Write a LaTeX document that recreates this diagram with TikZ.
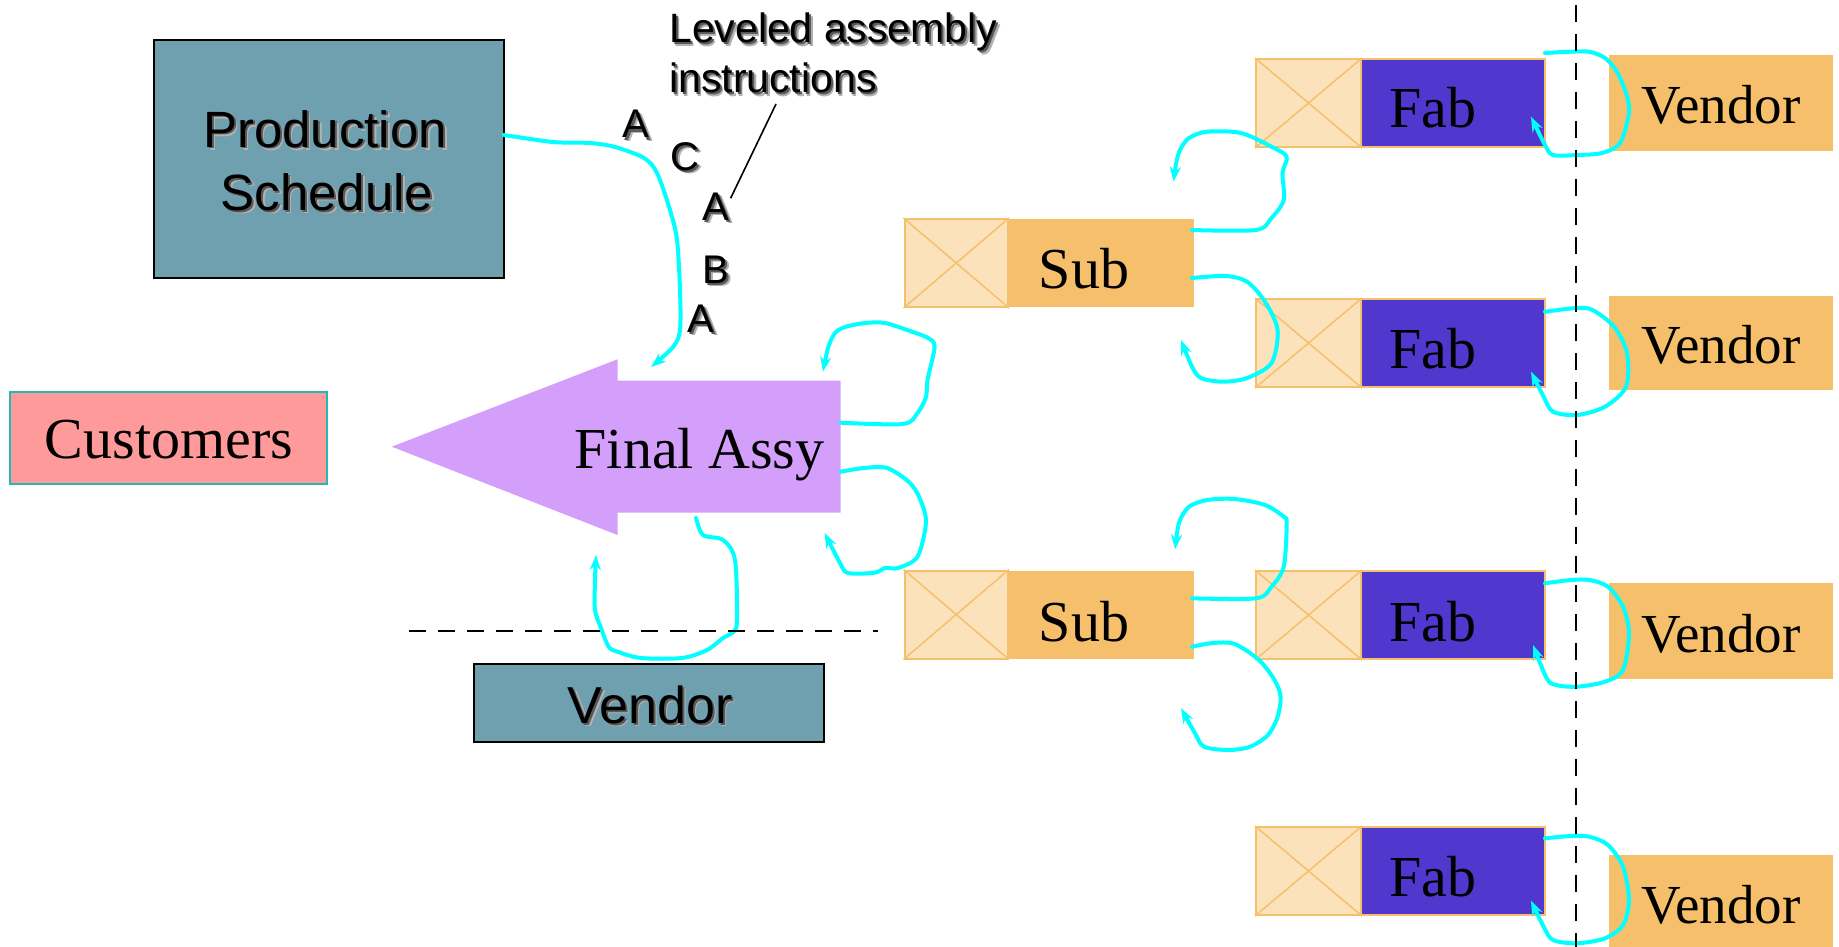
\documentclass[tikz,border=0pt]{standalone}
\usepackage{fontspec}
\setmainfont{Liberation Serif}
\setsansfont{Liberation Sans}
\usetikzlibrary{arrows.meta}
\definecolor{teal1}{HTML}{6EA0AF}
\definecolor{pink1}{HTML}{FF9A9A}
\definecolor{custb}{HTML}{22B8B8}
\definecolor{purp}{HTML}{D49FFB}
\definecolor{lor}{HTML}{FCE2BA}
\definecolor{orn}{HTML}{F5BF6B}
\definecolor{blu}{HTML}{5038CF}
\definecolor{cyn}{HTML}{00FFFF}
\tikzset{
  flow/.style={draw=cyn, line width=4pt, line cap=round, line join=round, -{Stealth[length=15pt,width=11pt]}},
  tealbox/.style={draw=black, line width=2.5pt, fill=teal1, inner sep=0pt},
  custbox/.style={draw=custb, line width=2pt, fill=pink1, inner sep=0pt},
  xbox/.style={draw=orn, line width=2pt, fill=lor, inner sep=0pt, minimum height=88pt},
  xline/.style={draw=orn, line width=1.5pt},
  fabbox/.style={draw=orn, line width=2pt, fill=blu, inner sep=0pt, minimum height=88pt, minimum width=184pt},
  subbox/.style={fill=orn, inner sep=0pt, minimum height=88pt, minimum width=186pt},
  vendbox/.style={fill=orn, inner sep=0pt, minimum width=224pt},
  serif/.style={font=\fontsize{58}{58}\selectfont, anchor=base, inner sep=0pt},
  dashline/.style={draw=black, line width=2pt, dash pattern=on 17pt off 12pt},
  leader/.style={draw=black, line width=1.6pt},
}
\newcommand\shtxt[5]{%
  \node[anchor=base, inner sep=0pt, text=black!30, font=\sffamily\fontsize{#4}{#4}\selectfont] at (#2+3.5,#3+3.5) {#5};
  \node[anchor=base, inner sep=0pt, text=black!65, font=\sffamily\fontsize{#4}{#4}\selectfont] at (#2+2,#3+2) {#5};
  \node[anchor=base, inner sep=0pt, text=black, font=\sffamily\fontsize{#4}{#4}\selectfont] (#1) at (#2,#3) {#5};}
\newcommand\shleft[4]{%
  \node[anchor=base west, inner sep=0pt, text=black!30, font=\sffamily\fontsize{41}{41}\selectfont] at (#2+3.5,#3+3.5) {#4};
  \node[anchor=base west, inner sep=0pt, text=black!65, font=\sffamily\fontsize{41}{41}\selectfont] at (#2+2,#3+2) {#4};
  \node[anchor=base west, inner sep=0pt, font=\sffamily\fontsize{41}{41}\selectfont] (#1) at (#2,#3) {#4};}
\newcommand\fabunit[3]{%
  \node[xbox, minimum width=105pt] (#1x) at (1308.5,#2) {};
  \draw[xline] (#1x.north west) -- (#1x.south east) (#1x.north east) -- (#1x.south west);
  \node[fabbox] (#1) at (1453,#2) {};
  \node[serif] (#1t) at (1433,#3) {Fab};}
\newcommand\subunit[3]{%
  \node[xbox, minimum width=103.5pt] (#1x) at (956.25,#2) {};
  \draw[xline] (#1x.north west) -- (#1x.south east) (#1x.north east) -- (#1x.south west);
  \node[subbox] (#1) at (1101,#2) {};
  \node[serif] (#1t) at (1084,#3) {Sub};}
\begin{document}
\begin{tikzpicture}[x=1pt,y=-1pt]
\useasboundingbox (0,0) rectangle (1839,947);
% Production schedule
\node[tealbox, minimum width=350pt, minimum height=238pt] (ps) at (329,159) {};
\shtxt{ps1}{325}{147}{51}{Production}
\shtxt{ps2}{327}{210}{51}{Schedule}
% leveled assembly
\shleft{lv1}{669}{42.7}{Leveled assembly}
\shleft{lv2}{669}{93}{instructions}
\shtxt{la1}{636}{138}{40}{A}
\shtxt{lc}{685}{170}{40}{C}
\shtxt{la2}{716}{220}{40}{A}
\shtxt{lb}{716}{283}{40}{B}
\shtxt{la3}{701}{332}{40}{A}
\coordinate (ldA) at (730.6,198.3);
\coordinate (ldB) at (776,104);
\draw[leader] (ldA) -- (ldB);
% customers
\node[custbox, minimum width=317pt, minimum height=92pt] (cust) at (168.5,438) {};
\node[serif] (custt) at (169,458) {Customers};
% final assy arrow
\fill[purp] (391.8,446.7) -- (617.5,359.3) -- (617.5,380.7) -- (840.7,380.7) -- (840.7,512.7) -- (617.5,512.7) -- (617.5,535) -- cycle;
\node[serif] (fa) at (699.5,468) {Final Assy};
% vendor (bottom)
\node[tealbox, minimum width=350pt, minimum height=78pt] (vb) at (649,703) {};
\shtxt{vbt}{650}{723}{52}{Vendor}
% right side units
\fabunit{fab1}{103}{128}
\fabunit{fab2}{343}{368}
\fabunit{fab3}{615}{641}
\fabunit{fab4}{871}{896}
\subunit{sub1}{263}{288}
\subunit{sub2}{614.5}{641}
\node[vendbox, minimum height=96pt] (v1) at (1721,103) {};
\node[vendbox, minimum height=94pt] (v2) at (1721,343) {};
\node[vendbox, minimum height=96pt] (v3) at (1721,631) {};
\node[vendbox, minimum height=92pt] (v4) at (1721,901) {};
\node[serif, font=\fontsize{55}{55}\selectfont] (v1t) at (1721,124) {Vendor};
\node[serif, font=\fontsize{55}{55}\selectfont] (v2t) at (1721,363) {Vendor};
\node[serif, font=\fontsize{55}{55}\selectfont] (v3t) at (1721,652) {Vendor};
\node[serif, font=\fontsize{55}{55}\selectfont] (v4t) at (1721,923) {Vendor};
% flow loops
\coordinate (l1s) at (504,135);   \coordinate (l1e) at (651,367);
\coordinate (l2s) at (840.7,422.7); \coordinate (l2e) at (823,371.7);
\coordinate (l3s) at (840.7,471.7); \coordinate (l3e) at (824.6,533);
\coordinate (l4s) at (696,518);   \coordinate (l4e) at (596,555);
\coordinate (l5s) at (1192,230);  \coordinate (l5e) at (1173.6,181.7);
\coordinate (l6s) at (1192,278);  \coordinate (l6e) at (1181,340);
\coordinate (l7s) at (1545,53);   \coordinate (l7e) at (1531,116.7);
\coordinate (l8s) at (1545,311.7); \coordinate (l8e) at (1531,371.7);
\coordinate (l9s) at (1192,598.3); \coordinate (l9e) at (1175,549.3);
\coordinate (l10s) at (1192,646.7); \coordinate (l10e) at (1181,708.3);
\coordinate (l11s) at (1545,583.3); \coordinate (l11e) at (1533,645);
\coordinate (l12s) at (1545,838.3); \coordinate (l12e) at (1531,900.7);
\draw[flow] plot[smooth, tension=0.5] coordinates {(l1s) (553,142) (590,143) (615,147) (644,158) (657,173) (670,210) (677,240) (680,290) (680,330) (673,347) (l1e)};
\draw[flow] plot[smooth, tension=0.5] coordinates {(l2s) (903,424) (917.5,413) (926,397) (927.5,380) (934.6,346.7) (928,338) (912,331.7) (885,323) (865.7,323) (846,326.7) (835,333) (828,348) (l2e)};
\draw[flow] plot[smooth, tension=0.5] coordinates {(l3s) (864,468) (887,468) (908.6,481.7) (919,496.7) (926,521.7) (917.5,556.7) (898,568) (885,568) (874.6,572.7) (848,573) (840,563) (l3e)};
\draw[flow] plot[smooth, tension=0.5] coordinates {(l4s) (703,535) (723,540) (735,560) (737,620) (733.6,631.7) (723,638) (707,650) (682,658) (641,658) (617.5,651.7) (608.6,646.7) (601,628) (595,610) (595,580) (l4e)};
\draw[flow] plot[smooth, tension=0.5] coordinates {(l5s) (1256,230) (1271.5,218) (1283.7,200) (1282.5,173) (1286.7,156.7) (1271.5,146.7) (1241,133) (1207,131.7) (1189,138) (1180,150) (1176,164) (l5e)};
\draw[flow] plot[smooth, tension=0.5] coordinates {(l6s) (1225.6,276) (1247,281.7) (1265,301.7) (1277.6,330) (1271.5,363) (1247,378) (1222.5,381.7) (1201,378) (1192,366.7) (l6e)};
\draw[flow] plot[smooth, tension=0.5] coordinates {(l7s) (1571,51.7) (1589,51.7) (1605,58) (1617,72) (1626,93) (1629,113) (1620,143) (1602,153) (1577,155) (1553,155) (1545,145) (l7e)};
\draw[flow] plot[smooth, tension=0.5] coordinates {(l8s) (1577,308) (1592.5,310) (1614,326.7) (1627,353) (1626,386.7) (1605,406.7) (1577,415) (1553,411.7) (1543.6,396.7) (l8e)};
\draw[flow] plot[smooth, tension=0.5] coordinates {(l9s) (1256,598.3) (1271.5,586.7) (1283.7,566.7) (1286.7,523.3) (1283.7,516.7) (1265,505) (1234.7,499) (1207,500) (1189,506.7) (1180,520) (1177,533) (l9e)};
\draw[flow] plot[smooth, tension=0.5] coordinates {(l10s) (1213,643) (1234.7,644) (1259,660) (1274.5,680) (1280.6,696.7) (1277.6,716.7) (1268,735) (1250,746.7) (1228.6,750) (1204,746.7) (1195,733.3) (l10e)};
\draw[flow] plot[smooth, tension=0.5] coordinates {(l11s) (1571,580) (1589.5,580) (1608,586.7) (1623,606.7) (1629,633.3) (1623,670) (1605,681.7) (1577,686.7) (1556,685) (1546.7,678.3) (l11e)};
\draw[flow] plot[smooth, tension=0.5] coordinates {(l12s) (1571,836) (1589.5,836.7) (1608,845) (1623,866.7) (1629,900) (1623,925) (1605,938.3) (1577,943.3) (1553,940) (1543.6,926.7) (l12e)};
% dashed boundaries
\coordinate (dh1) at (409,631); \coordinate (dh2) at (878,631);
\coordinate (dv1) at (1576,5);  \coordinate (dv2) at (1576,947);
\draw[dashline] (dh1) -- (dh2);
\draw[dashline] (dv1) -- (dv2);
\end{tikzpicture}
\end{document}
